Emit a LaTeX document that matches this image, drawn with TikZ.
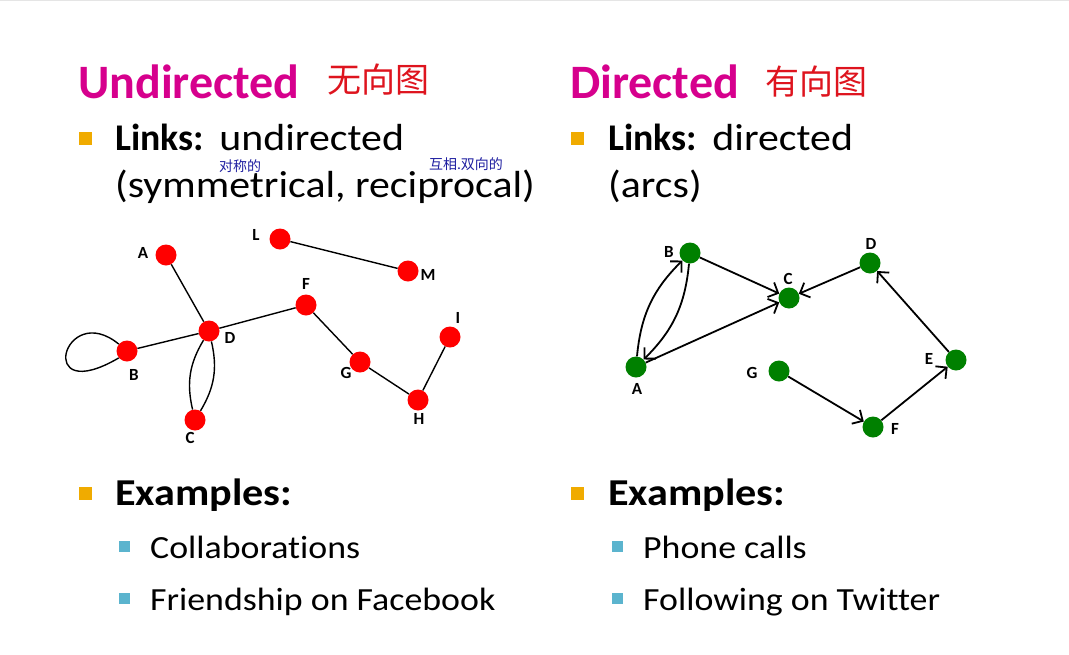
\documentclass[tikz,border=0pt]{standalone}
\usepackage{fontspec}
\setmainfont{Carlito}[Ligatures=NoCommon]
\newfontfamily\wide{Carlito}[FakeStretch=1.11,Ligatures=NoCommon]
\newfontfamily\cjk{Noto Sans CJK SC}
\usetikzlibrary{positioning,arrows.meta}
\definecolor{titlemag}{RGB}{214,0,141}
\definecolor{bulorange}{RGB}{240,171,0}
\definecolor{bulblue}{RGB}{91,180,206}
\definecolor{inkred}{RGB}{222,20,30}
\definecolor{inkblue}{RGB}{30,30,160}
\definecolor{nodegreen}{RGB}{0,128,0}
\newcommand\vlab[3]{\node[vertex label]at([shift={#2}]#1){#3};}

\begin{document}
\begin{tikzpicture}[x=1pt,y=-1pt]
% Text styles
\tikzstyle{title}=[anchor=base west,inner sep=0,text=titlemag,font=\fontsize{48}{52}\selectfont\bfseries];
\tikzstyle{body}=[anchor=base west,inner sep=0,font=\wide\fontsize{37.7}{42}\selectfont];
\tikzstyle{sub body}=[anchor=base west,inner sep=0,font=\wide\fontsize{32.3}{38}\selectfont];
\tikzstyle{hand}=[inner sep=0,text=inkred,font=\cjk\fontsize{34}{38}\selectfont];
\tikzstyle{note}=[inner sep=0,text=inkblue,font=\cjk\fontsize{14}{16}\selectfont];
% Bullets: square marks of two sizes
\tikzstyle{main bullet}=[rectangle,inner sep=0,minimum size=13,fill=bulorange];
\tikzstyle{sub bullet}=[rectangle,inner sep=0,minimum size=11,fill=bulblue];
% Graph styles
\tikzstyle{red node}=[circle,inner sep=0,minimum size=21,fill=red];
\tikzstyle{green node}=[circle,inner sep=0,minimum size=21,fill=nodegreen];
\tikzstyle{vertex label}=[inner sep=0,font=\fontsize{17}{19}\selectfont\bfseries];
\tikzstyle{edge}=[line width=1.4];
\tikzstyle{arc}=[line width=1.8,-{Straight Barb[length=8,width=16,line width=1.8]}];
\useasboundingbox(0,0)rectangle(1069,654);
\draw[gray!20,line width=1](0,0.5)--(1069,0.5);
% Left column
\node[title](undir)at(78,98){Undirected};
\node[hand](undirzh)at(378,80){无向图};
\node[main bullet](lb1)at(85,138){};
\node[body](llinks)at(115,150){{\normalfont\bfseries Links:}\hspace{3pt} undirected};
\node[body](lsym)at(115,197){(symmetrical, reciprocal)};
\node[note](symzh)at(240,166){对称的};
\node[note](reczh)at(466,164){互相.双向的};
\node[main bullet](lb2)at(85,493){};
\node[body](lex)at(115,505){\fontsize{38}{42}\selectfont\bfseries Examples:};
\node[sub bullet](ls1)at(124,546){};
\node[sub body](lcol)at(150,558){Collaborations};
\node[sub bullet](ls2)at(124,598){};
\node[sub body](lfri)at(150,610){Friendship on Facebook};
% Right column
\node[title](dir)at(570,98){Directed};
\node[hand](dirzh)at(816,82){有向图};
\node[main bullet](rb1)at(577,138){};
\node[body](rlinks)at(608,150){{\normalfont\bfseries Links:}\hspace{3pt} directed};
\node[body](rarcs)at(608,197){(arcs)};
\node[main bullet](rb2)at(577,493){};
\node[body](rex)at(608,505){\fontsize{38}{42}\selectfont\bfseries Examples:};
\node[sub bullet](rs1)at(617,546){};
\node[sub body](rpho)at(643,558){Phone calls};
\node[sub bullet](rs2)at(617,598){};
\node[sub body](rfol)at(643,610){Following on Twitter};
% The undirected graph
\node[red node](uA)at(166,255){};
\node[red node](uL)at(280,239){};
\node[red node](uM)at(408,271){};
\node[red node](uF)at(306,305){};
\node[red node](uD)at(209,331){};
\node[red node](uB)at(127,351){};
\node[red node](uG)at(360,362){};
\node[red node](uI)at(450,337){};
\node[red node](uH)at(418,400){};
\node[red node](uC)at(195,420){};
\draw[edge](uA)--(uD);
\draw[edge](uL)--(uM);
\draw[edge](uB)--(uD)--(uF)--(uG)--(uH)--(uI);
\draw[edge](uD)to[bend left=22](uC);
\draw[edge](uD)to[bend right=22](uC);
\draw[edge](uB.140)..controls+(-55,-45)and+(-85,50)..(uB.220);
\vlab{uA}{(-23,-2)}{A}
\vlab{uL}{(-24,-4)}{L}
\vlab{uM}{(20,4)}{M}
\vlab{uF}{(0,-21)}{F}
\vlab{uD}{(21,7)}{D}
\vlab{uB}{(7,24)}{B}
\vlab{uG}{(-14,11)}{G}
\vlab{uI}{(8,-19)}{I}
\vlab{uH}{(1,19)}{H}
\vlab{uC}{(-5,18)}{C}
% The directed graph
\node[green node](dB)at(690,253){};
\node[green node](dC)at(789,298){};
\node[green node](dD)at(870,263){};
\node[green node](dA)at(636,367){};
\node[green node](dG)at(779,371){};
\node[green node](dE)at(956,360){};
\node[green node](dF)at(873,427){};
\draw[arc](dB)--(dC);
\draw[arc](dA)--(dC);
\draw[arc](dD)--(dC);
\draw[arc](dE)--(dD);
\draw[arc](dG)--(dF);
\draw[arc](dF)--(dE);
\draw[arc](dA)to[bend left=20](dB);
\draw[arc](dB)to[bend left=20](dA);
\vlab{dB}{(-21,-1)}{B}
\vlab{dC}{(-1,-19)}{C}
\vlab{dD}{(1,-19)}{D}
\vlab{dA}{(1,22)}{A}
\vlab{dG}{(-27,2)}{G}
\vlab{dE}{(-27,-1)}{E}
\vlab{dF}{(22,2)}{F}
\end{tikzpicture}
\end{document}
